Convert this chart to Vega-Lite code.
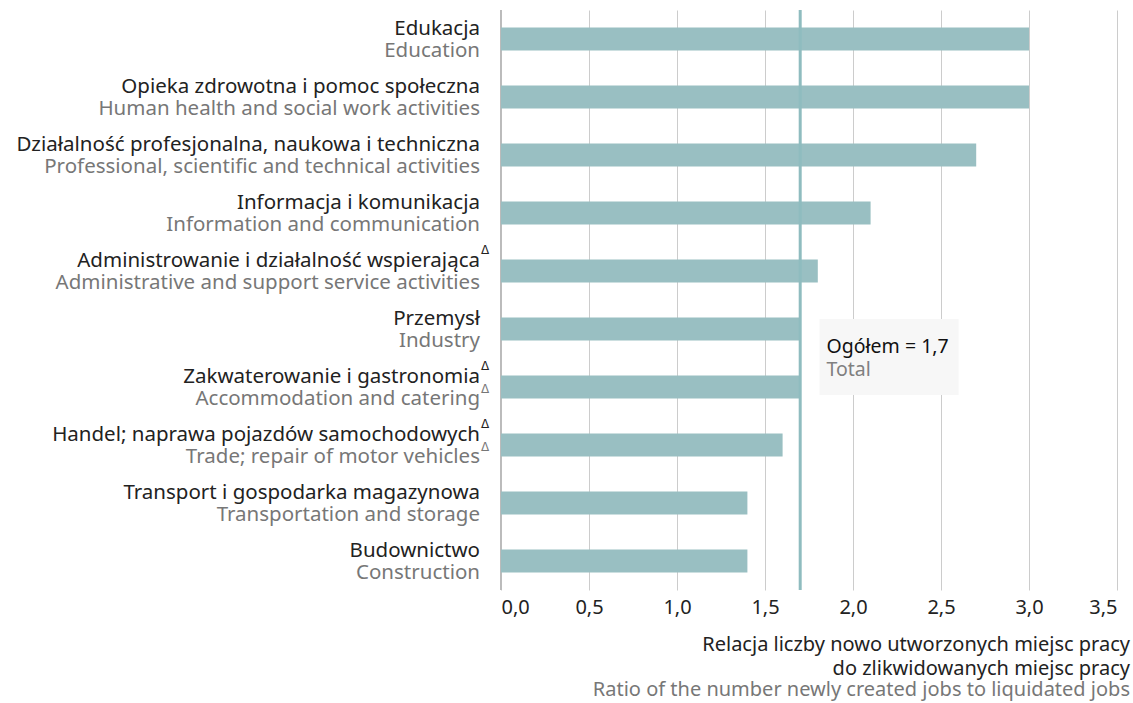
{
  "$schema": "https://vega.github.io/schema/vega-lite/v6.json",
  "autosize": "none",
  "width": 616,
  "height": 580,
  "padding": {"left": 501, "top": 10, "right": 16, "bottom": 113},
  "background": "white",
  "config": {
    "font": "Noto Sans",
    "view": {"stroke": null}
  },
  "title": {
    "text": ["Relacja liczby nowo utworzonych miejsc pracy", "do zlikwidowanych miejsc pracy"],
    "subtitle": "Ratio of the number newly created jobs to liquidated jobs",
    "orient": "bottom",
    "anchor": "end",
    "font": "Noto Sans",
    "fontSize": 20,
    "fontWeight": "normal",
    "color": "#222222",
    "lineHeight": 24,
    "subtitleFont": "Noto Sans",
    "subtitleFontSize": 20,
    "subtitleColor": "#777777",
    "subtitleLineHeight": 24,
    "subtitlePadding": 1,
    "offset": 18,
    "dx": 13
  },
  "datasets": {
    "rows": [
      {"pl": "Edukacja", "en": "Education", "value": 3.0, "dpl": false, "den": false},
      {"pl": "Opieka zdrowotna i pomoc społeczna", "en": "Human health and social work activities", "value": 3.0, "dpl": false, "den": false},
      {"pl": "Działalność profesjonalna, naukowa i techniczna", "en": "Professional, scientific and technical activities", "value": 2.7, "dpl": false, "den": false},
      {"pl": "Informacja i komunikacja", "en": "Information and communication", "value": 2.1, "dpl": false, "den": false},
      {"pl": "Administrowanie i działalność wspierająca", "en": "Administrative and support service activities", "value": 1.8, "dpl": true, "den": false},
      {"pl": "Przemysł", "en": "Industry", "value": 1.7, "dpl": false, "den": false},
      {"pl": "Zakwaterowanie i gastronomia", "en": "Accommodation and catering", "value": 1.7, "dpl": true, "den": true},
      {"pl": "Handel; naprawa pojazdów samochodowych", "en": "Trade; repair of motor vehicles", "value": 1.6, "dpl": true, "den": true},
      {"pl": "Transport i gospodarka magazynowa", "en": "Transportation and storage", "value": 1.4, "dpl": false, "den": false},
      {"pl": "Budownictwo", "en": "Construction", "value": 1.4, "dpl": false, "den": false}
    ],
    "total": [
      {"pl": "Przemysł", "value": 1.7, "label": "Ogółem = 1,7", "sub": "Total", "x1": 1.81, "x2": 2.6}
    ]
  },
  "encoding": {
    "y": {
      "field": "pl",
      "type": "nominal",
      "sort": null,
      "scale": {"domain": ["Edukacja", "Opieka zdrowotna i pomoc społeczna", "Działalność profesjonalna, naukowa i techniczna", "Informacja i komunikacja", "Administrowanie i działalność wspierająca", "Przemysł", "Zakwaterowanie i gastronomia", "Handel; naprawa pojazdów samochodowych", "Transport i gospodarka magazynowa", "Budownictwo"], "paddingInner": 0.6, "paddingOuter": 0.3},
      "axis": null
    }
  },
  "layer": [
    {
      "data": {"name": "total"},
      "mark": {"type": "bar", "color": "#f7f7f7", "height": 76, "yOffset": 28},
      "encoding": {
        "x": {"field": "x1", "type": "quantitative", "scale": {"domain": [0, 3.5], "nice": false}, "axis": {"values": [0, 0.5, 1, 1.5, 2, 2.5, 3, 3.5], "labelExpr": "replace(format(datum.value, '.1f'), '.', ',')", "grid": true, "gridColor": "#cccccc", "gridWidth": 1, "domain": false, "ticks": false, "labelFontSize": 20, "labelColor": "#222222", "labelPadding": 7, "title": null}},
        "x2": {"field": "x2"}
      }
    },
    {
      "data": {"name": "rows"},
      "mark": {"type": "rule", "color": "#bbbbbb", "strokeWidth": 1},
      "encoding": {"x": {"datum": 0}, "y": null}
    },
    {
      "data": {"name": "rows"},
      "mark": {"type": "bar", "color": "#99bfc2"},
      "encoding": {"x": {"field": "value", "type": "quantitative"}}
    },
    {
      "data": {"name": "total"},
      "mark": {"type": "rule", "color": "#8fbcbf", "strokeWidth": 3},
      "encoding": {"x": {"field": "value", "type": "quantitative"}, "y": null}
    },
    {
      "data": {"name": "total"},
      "mark": {"type": "text", "align": "left", "baseline": "middle", "fontSize": 19.5, "color": "#111111", "dx": 7, "dy": 18, "font": "Noto Sans"},
      "encoding": {"x": {"field": "x1", "type": "quantitative"}, "text": {"field": "label"}}
    },
    {
      "data": {"name": "total"},
      "mark": {"type": "text", "align": "left", "baseline": "middle", "fontSize": 19.5, "color": "#808080", "dx": 7, "dy": 41, "font": "Noto Sans"},
      "encoding": {"x": {"field": "x1", "type": "quantitative"}, "text": {"field": "sub"}}
    },
    {
      "data": {"name": "rows"},
      "mark": {"type": "text", "align": "right", "baseline": "middle", "fontSize": 20.5, "color": "#222222", "dx": -21, "dy": -10.5, "font": "Noto Sans"},
      "encoding": {"x": {"datum": 0}, "text": {"field": "pl"}}
    },
    {
      "data": {"name": "rows"},
      "mark": {"type": "text", "align": "right", "baseline": "middle", "fontSize": 20.5, "color": "#777777", "dx": -21, "dy": 12, "font": "Noto Sans"},
      "encoding": {"x": {"datum": 0}, "text": {"field": "en"}}
    },
    {
      "data": {"name": "rows"},
      "transform": [{"filter": "datum.dpl"}],
      "mark": {"type": "text", "align": "left", "baseline": "middle", "fontSize": 12, "color": "#222222", "dx": -20, "dy": -21, "font": "DejaVu Sans", "text": "Δ"},
      "encoding": {"x": {"datum": 0}}
    },
    {
      "data": {"name": "rows"},
      "transform": [{"filter": "datum.den"}],
      "mark": {"type": "text", "align": "left", "baseline": "middle", "fontSize": 12, "color": "#777777", "dx": -20, "dy": 2, "font": "DejaVu Sans", "text": "Δ"},
      "encoding": {"x": {"datum": 0}}
    }
  ]
}
